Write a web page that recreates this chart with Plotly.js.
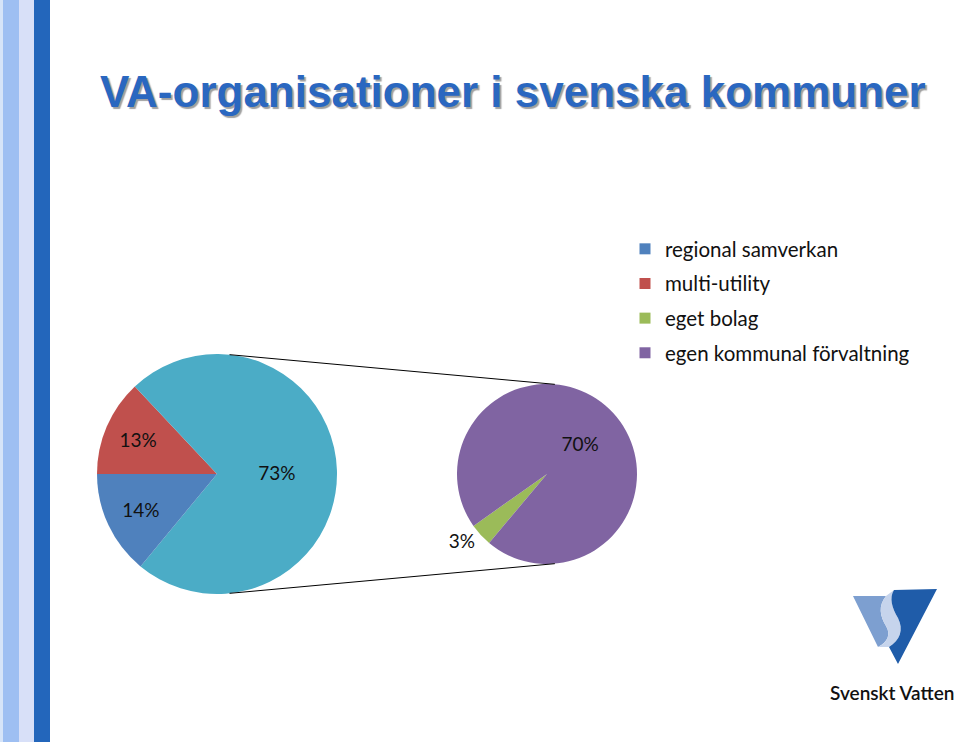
<!DOCTYPE html>
<html>
<head>
<meta charset="utf-8">
<script src="https://cdn.plot.ly/plotly-3.0.1.min.js"></script>
<style>
  html, body { margin: 0; padding: 0; background: #ffffff; }
  #chart { width: 960px; height: 742px; }
</style>
</head>
<body>
<div id="chart"></div>
<script>
// ---------------- data ----------------
const chartTitle = 'VA-organisationer i svenska kommuner';
const legendLabels = ['regional samverkan', 'multi-utility', 'eget bolag', 'egen kommunal förvaltning'];
const mainLabels = ['multi-utility', 'övrigt', 'regional samverkan'];
const mainValues = [13, 73, 14];
const splitLabels = ['eget bolag', 'egen kommunal förvaltning'];
const splitValues = [3, 70];

// ---------------- styles ----------------
const W = 960, H = 742;
const colorMap = {
  'regional samverkan': '#4f81bd',
  'multi-utility': '#c0504d',
  'eget bolag': '#9bbb59',
  'egen kommunal förvaltning': '#8064a2',
  'övrigt': '#4bacc6'
};
const FONT = 'Lato, "Open Sans", "Noto Sans", sans-serif';

function px(x) { return x / W; }
function py(y) { return 1 - y / H; }
function pathStr(cmds) {
  return cmds.map(c => {
    const t = c[0];
    const nums = [];
    for (let i = 1; i < c.length; i += 2) nums.push(px(c[i]).toFixed(5) + ',' + py(c[i + 1]).toFixed(5));
    return t + nums.join(' ');
  }).join(' ') + ' Z';
}

// pie geometry (pixels)
const leftPie = { cx: 217, cy: 474, r: 120 };
const rightPie = { cx: 547, cy: 474, r: 90 };
function domainOf(p) {
  return { x: [px(p.cx - p.r), px(p.cx + p.r)], y: [py(p.cy + p.r), py(p.cy - p.r)] };
}
function pointOn(p, deg) {
  const a = deg * Math.PI / 180;
  return [p.cx + p.r * Math.sin(a), p.cy - p.r * Math.cos(a)];
}

const traces = [];
traces.push({
  type: 'pie',
  labels: mainLabels,
  values: mainValues,
  sort: false,
  direction: 'clockwise',
  rotation: 270,
  domain: domainOf(leftPie),
  marker: { colors: mainLabels.map(l => colorMap[l]), line: { width: 0 } },
  textinfo: 'percent',
  textposition: 'inside',
  insidetextorientation: 'horizontal',
  textfont: { family: FONT, size: 19, color: '#111111' },
  insidetextfont: { family: FONT, size: 19, color: '#111111' },
  showlegend: false,
  hoverinfo: 'label+percent'
});
traces.push({
  type: 'pie',
  labels: splitLabels,
  values: splitValues,
  sort: false,
  direction: 'clockwise',
  rotation: 220,
  domain: domainOf(rightPie),
  marker: { colors: splitLabels.map(l => colorMap[l]), line: { width: 0 } },
  texttemplate: '%{value}%',
  textposition: ['outside', 'inside'],
  insidetextorientation: 'horizontal',
  textfont: { family: FONT, size: 19, color: '#111111' },
  insidetextfont: { family: FONT, size: 19, color: '#111111' },
  outsidetextfont: { family: FONT, size: 19, color: '#111111' },
  showlegend: false,
  hoverinfo: 'label+value'
});
// legend entries
legendLabels.forEach((lab, i) => {
  traces.push({
    type: 'scatter',
    mode: 'markers',
    x: [null], y: [null],
    name: lab,
    legendgroup: 'g' + i,
    marker: { symbol: 'square', size: 11, color: colorMap[lab] },
    showlegend: true,
    hoverinfo: 'skip'
  });
});

// connector lines
const lt = pointOn(leftPie, 6), rt = pointOn(rightPie, 5);
const lb = pointOn(leftPie, 174), rb = pointOn(rightPie, 175);

const shapes = [
  // decorative stripes on the left
  { type: 'rect', xref: 'paper', yref: 'paper', x0: px(0), x1: px(3), y0: 0, y1: 1, fillcolor: '#d6e4f8', line: { width: 0 }, layer: 'below' },
  { type: 'rect', xref: 'paper', yref: 'paper', x0: px(3), x1: px(19), y0: 0, y1: 1, fillcolor: '#9ebff2', line: { width: 0 }, layer: 'below' },
  { type: 'rect', xref: 'paper', yref: 'paper', x0: px(19), x1: px(34), y0: 0, y1: 1, fillcolor: '#d8e0f8', line: { width: 0 }, layer: 'below' },
  { type: 'rect', xref: 'paper', yref: 'paper', x0: px(34), x1: px(50), y0: 0, y1: 1, fillcolor: '#2366bb', line: { width: 0 }, layer: 'below' },
  // connector lines
  { type: 'line', xref: 'paper', yref: 'paper', x0: px(lt[0]), y0: py(lt[1]), x1: px(rt[0]), y1: py(rt[1]), line: { color: '#000000', width: 1 } },
  { type: 'line', xref: 'paper', yref: 'paper', x0: px(lb[0]), y0: py(lb[1]), x1: px(rb[0]), y1: py(rb[1]), line: { color: '#000000', width: 1 } },
  // logo: light left part
  { type: 'path', xref: 'paper', yref: 'paper', fillcolor: '#7d9fd0', line: { width: 0 },
    path: pathStr([['M', 853, 596], ['L', 886, 596], ['C', 878, 606, 880, 616, 886, 626], ['C', 891, 634, 888, 642, 878, 647]]) },
  // logo: light S band
  { type: 'path', xref: 'paper', yref: 'paper', fillcolor: '#c6d4ec', line: { width: 0 },
    path: pathStr([['M', 886, 596], ['L', 894, 590], ['C', 889, 598, 892, 608, 898, 618], ['C', 904, 630, 900, 640, 889, 647], ['L', 878, 647], ['C', 888, 642, 891, 634, 886, 626], ['C', 880, 616, 878, 606, 886, 596]]) },
  // logo: dark right part
  { type: 'path', xref: 'paper', yref: 'paper', fillcolor: '#1f5ca9', line: { width: 0 },
    path: pathStr([['M', 894, 590], ['L', 937, 589], ['L', 898, 664], ['L', 889, 647], ['C', 900, 640, 904, 630, 898, 618], ['C', 892, 608, 889, 598, 894, 590]]) }
];

const annotations = [
  { text: 'Svenskt Vatten', xref: 'paper', yref: 'paper', x: px(828), y: py(692), xanchor: 'left', yanchor: 'middle',
    showarrow: false, font: { family: FONT, size: 19, weight: 600, color: '#111111' } }
];

const layout = {
  width: W, height: H,
  margin: { l: 0, r: 0, t: 0, b: 0 },
  paper_bgcolor: '#ffffff',
  plot_bgcolor: 'rgba(0,0,0,0)',
  title: {
    text: chartTitle,
    xref: 'container', yref: 'container',
    x: 100 / W, xanchor: 'left',
    y: 1 - 76 / H, yanchor: 'top',
    font: { family: '"Liberation Sans", Arial, sans-serif', size: 44, weight: 700, color: '#2a67c0', shadow: '2px 2px 1px #a0a0a0' }
  },
  xaxis: { visible: false, range: [0, 1], fixedrange: true },
  yaxis: { visible: false, range: [0, 1], fixedrange: true },
  showlegend: true,
  legend: {
    x: px(625), y: py(229), xanchor: 'left', yanchor: 'top',
    font: { family: FONT, size: 20.5, color: '#111111' },
    bgcolor: 'rgba(0,0,0,0)',
    traceorder: 'grouped',
    tracegroupgap: 5,
    itemclick: false, itemdoubleclick: false
  },
  shapes: shapes,
  annotations: annotations
};

Plotly.newPlot('chart', traces, layout, { displayModeBar: false, staticPlot: true });
</script>
</body>
</html>
